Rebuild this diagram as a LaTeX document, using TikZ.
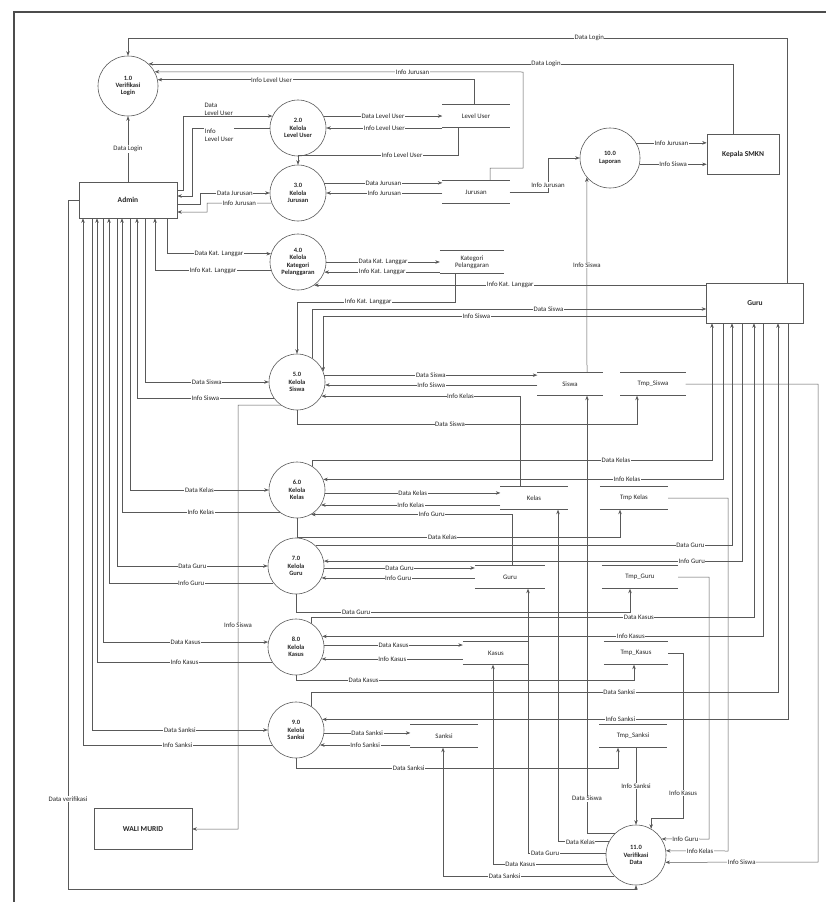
\documentclass[tikz,border=0pt]{standalone}
\usepackage{fontspec}
\setmainfont{Carlito}
\usetikzlibrary{arrows.meta}

\begin{document}
\begin{tikzpicture}[x=1pt, y=-1pt, >={Stealth[length=4.5pt,width=3.5pt]},
	every node/.style={font=\fontsize{6.8}{7.5}\selectfont, text=black!85},
	line/.style={draw=black!65, line width=0.5pt},
	flow/.style={line, ->},
	proc/.style={circle, draw=black!65, line width=0.6pt, minimum size=56pt, inner sep=0pt, align=center, font=\bfseries\fontsize{6.5}{7.3}\selectfont},
	big/.style={minimum size=60pt},
	ent/.style={draw=black!65, line width=0.6pt, align=center, font=\bfseries\fontsize{7.5}{8.5}\selectfont},
	store/.style={minimum height=23pt, inner sep=1pt, align=center},
	lbl/.style={fill=white, inner sep=0.6pt}]
	\useasboundingbox (0,0) rectangle (826,902);
	\draw[black!70, line width=2pt] (826,12) -- (14,12) -- (14,902);
	
	% proses
	\node[proc, big] (p1) at (128,86) {1.0\\Verifikasi\\Login};
	\node[proc] (p2) at (298,128) {2.0\\Kelola\\Level User};
	\node[proc] (p3) at (298,193) {3.0\\Kelola\\Jurusan};
	\node[proc] (p4) at (298,262) {4.0\\Kelola\\Kategori\\Pelanggaran};
	\node[proc] (p5) at (297,382) {5.0\\Kelola\\Siswa};
	\node[proc] (p6) at (297,490) {6.0\\Kelola\\Kelas};
	\node[proc] (p7) at (296,566) {7.0\\Kelola\\Guru};
	\node[proc] (p8) at (296,647) {8.0\\Kelola\\Kasus};
	\node[proc] (p9) at (296,730) {9.0\\Kelola\\Sanksi};
	\node[proc, big] (p10) at (610,158) {10.0\\Laporan};
	\node[proc, big] (p11) at (636,855) {11.0\\Verifikasi\\Data};
	
	% entitas
	\node[ent, minimum width=98pt, minimum height=36pt] (admin) at (128,200) {Admin};
	\node[ent, minimum width=72pt, minimum height=40pt] (kepala) at (743,154) {Kepala SMKN};
	\node[ent, minimum width=97pt, minimum height=40pt] (guru) at (755,303) {Guru};
	\node[ent, minimum width=98pt, minimum height=41pt] (wali) at (143,829) {WALI MURID};
	
	% data store
	\node[store, minimum width=67pt] (sUser) at (476,116) {Level User};
	\node[store, minimum width=67pt] (sJur) at (476,192) {Jurusan};
	\node[store, minimum width=64pt] (sKat) at (472,262) {Kategori\\Pelanggaran};
	\node[store, minimum width=65pt] (sSiswa) at (570,384) {Siswa};
	\node[store, minimum width=65pt] (sTSiswa) at (653,384) {Tmp\_Siswa};
	\node[store, minimum width=67pt] (sKelas) at (534,498) {Kelas};
	\node[store, minimum width=68pt] (sTKelas) at (634,498) {Tmp Kelas};
	\node[store, minimum width=70pt] (sGuru) at (510,577) {Guru};
	\node[store, minimum width=76pt] (sTGuru) at (640,577) {Tmp\_Guru};
	\node[store, minimum width=66pt] (sKasus) at (496,653) {Kasus};
	\node[store, minimum width=64pt] (sTKasus) at (636,653) {Tmp\_Kasus};
	\node[store, minimum width=67pt] (sSanksi) at (444,736) {Sanksi};
	\node[store, minimum width=67pt] (sTSanksi) at (633,736) {Tmp\_Sanksi};
	\foreach \s in {sUser,sJur,sKat,sSiswa,sTSiswa,sKelas,sTKelas,sGuru,sTGuru,sKasus,sTKasus,sSanksi,sTSanksi}
		\draw[line] (\s.north west) -- (\s.north east) (\s.south west) -- (\s.south east);
	
	% 1.0 Verifikasi Login
	\draw[flow] (guru.north -| 787,0) -- (787,38) -- node[lbl,pos=0.3]{Data Login} (128,38) -- (p1.north);
	\draw[flow] (kepala.north -| 733,0) |- node[lbl,pos=0.66]{Data Login} (p1.47);
	\draw[flow] (sJur.north -| 490,0) -- (490,168) -- (523,168) -- (523,72) -- node[lbl,pos=0.3]{Info Jurusan} (p1.28);
	\draw[flow] (sUser.north -| 474,0) |- node[lbl,pos=0.82]{Info Level User} (p1.12);
	\draw[flow] (admin) -- node[lbl]{Data Login} (p1);
	
	% 2.0 Kelola Level User
	\draw[flow] (admin.east |- 0,190) -- (183,190) |- node[lbl,pos=0.7,above,align=left]{Data\\Level User} (p2.155);
	\draw[flow] (p2.west) -- node[lbl,pos=0.65,below,align=left]{Info\\Level User} (192,128) -- (192,196) -- (admin.east |- 0,196);
	\draw[flow] (p2.25) -- node[lbl]{Data Level User} (p2.25 -| sUser.west);
	\draw[flow] (sUser.west |- p2.east) -- node[lbl]{Info Level User} (p2.east);
	\draw[flow] (sUser.south -| 458,0) -- (458,155) -- node[lbl,pos=0.35]{Info Level User} (298,155) -- (p3.north);
	
	% 3.0 Kelola Jurusan
	\draw[flow] (admin.east |- 0,204) -- (200,204) |- node[lbl,pos=0.75]{Data Jurusan} (p3.west);
	\draw[flow] (p3.201) -- node[lbl]{Info Jurusan} (207,203) |- (admin.east |- 0,212);
	\draw[flow] (p3.21) -- node[lbl]{Data Jurusan} (p3.21 -| sJur.west);
	\draw[flow] (sJur.west |- p3.east) -- node[lbl]{Info Jurusan} (p3.east);
	\draw[flow] (sJur.east) -- (548,192) |- node[lbl,pos=0.1]{Info Jurusan} (p10.west);
	
	% 10.0 Laporan
	\draw[flow] (sSiswa.north -| 587,0) -- node[lbl,pos=0.55]{Info Siswa} (p10.220);
	\draw[flow] (p10.30) -- node[lbl]{Info Jurusan} (p10.30 -| kepala.west);
	\draw[flow] (p10.348) -- node[lbl]{Info Siswa} (p10.348 -| kepala.west);
	
	% 4.0 Kelola Kategori Pelanggaran
	\draw[flow] (admin.south -| 167,0) |- node[lbl,pos=0.75]{Data Kat. Langgar} (p4.163);
	\draw[flow] (p4.197) -| node[lbl,pos=0.25]{Info Kat. Langgar} (admin.south -| 155,0);
	\draw[flow] (p4.east) -- node[lbl]{Data Kat. Langgar} (p4.east -| sKat.west);
	\draw[flow] (p4.339 -| sKat.west) -- node[lbl]{Info Kat. Langgar} (p4.339);
	\draw[flow] (p4.305 -| guru.west) -- node[lbl]{Info Kat. Langgar} (p4.305);
	\draw[flow] (sKat.south -| 455,0) -- (455,302) -- node[lbl,pos=0.55]{Info Kat. Langgar} (297,302) -- (p5.north);
	
	% 5.0 Kelola Siswa
	\draw[flow] (p5.58) |- node[lbl,pos=0.8]{Data Siswa} (guru.west |- 0,309);
	\draw[flow] (guru.west |- 0,316) -| node[lbl,pos=0.3]{Info Siswa} (p5.22);
	\draw[flow] (admin.south -| 145,0) |- node[lbl,pos=0.75]{Data Siswa} (p5.west);
	\draw[flow] (p5.215) -| node[lbl,pos=0.25]{Info Siswa} (admin.south -| 137,0);
	\draw[flow] (p5.14) -- node[lbl]{Data Siswa} (p5.14 -| sSiswa.west);
	\draw[flow] (p5.354 -| sSiswa.west) -- node[lbl]{Info Siswa} (p5.354);
	\draw[flow] (sKelas.north -| 520,0) |- node[lbl,pos=0.65]{Info Kelas} (p5.330);
	\draw[flow] (p5.south) -- (p5.south |- 0,424) -- node[lbl,pos=0.45]{Data Siswa} (637,424) -- (sTSiswa.south -| 637,0);
	\draw[flow] (sTSiswa.east) -- (818,384) -- (818,862) -- node[lbl]{Info Siswa} (p11.346);
	\draw[flow] (p5.235) -- (238,405) -- node[lbl,pos=0.52]{Info Siswa} (238,829) -- (wali.east);
	
	% 6.0 Kelola Kelas
	\draw[flow] (p6.58) |- node[lbl,pos=0.88]{Data Kelas} (712,460) -- (guru.south -| 712,0);
	\draw[flow] (guru.south -| 723,0) |- node[lbl,pos=0.62]{Info Kelas} (p6.22);
	\draw[flow] (admin.south -| 130,0) |- node[lbl,pos=0.75]{Data Kelas} (p6.west);
	\draw[flow] (p6.232) -| node[lbl,pos=0.25]{Info Kelas} (admin.south -| 122,0);
	\draw[flow] (p6.354) -- node[lbl]{Data Kelas} (p6.354 -| sKelas.west);
	\draw[flow] (p6.328 -| sKelas.west) -- node[lbl]{Info Kelas} (p6.328);
	\draw[flow] (sGuru.north -| 512,0) |- node[lbl,pos=0.7]{Info Guru} (p6.300);
	\draw[flow] (p6.south) -- (p6.south |- 0,537) -- node[lbl,pos=0.45]{Data Kelas} (620,537) -- (sTKelas.south -| 620,0);
	\draw[flow] (sTKelas.east) -- (728,498) -- (728,851) -- node[lbl,pos=0.45]{Info Kelas} (p11.8);
	
	% 7.0 Kelola Guru
	\draw[flow] (p7.46) -| node[lbl,pos=0.45]{Data Guru} (guru.south -| 732,0);
	\draw[flow] (guru.south -| 742,0) |- node[lbl,pos=0.56]{Info Guru} (p7.10);
	\draw[flow] (admin.south -| 117,0) |- node[lbl,pos=0.75]{Data Guru} (p7.west);
	\draw[flow] (p7.217) -| node[lbl,pos=0.25]{Info Guru} (admin.south -| 109,0);
	\draw[flow] (p7.356) -- node[lbl]{Data Guru} (p7.356 -| sGuru.west);
	\draw[flow] (p7.335 -| sGuru.west) -- node[lbl]{Info Guru} (p7.335);
	\draw[flow] (p7.south) -- (p7.south |- 0,612) -- node[lbl,pos=0.18]{Data Guru} (630,612) -- (sTGuru.south -| 630,0);
	\draw[flow] (sTGuru.east) -- (709,577) -- (709,839) -- node[lbl]{Info Guru} (p11.32);
	
	% 8.0 Kelola Kasus
	\draw[flow] (p8.58) |- node[lbl,pos=0.87]{Data Kasus} (754,617) -- (guru.south -| 754,0);
	\draw[flow] (guru.south -| 763,0) |- node[lbl,pos=0.65]{Info Kasus} (p8.22);
	\draw[flow] (admin.south -| 103,0) |- node[lbl,pos=0.75]{Data Kasus} (p8.170);
	\draw[flow] (p8.212) -| node[lbl,pos=0.25]{Info Kasus} (admin.south -| 97,0);
	\draw[flow] (p8.4) -- node[lbl]{Data Kasus} (p8.4 -| sKasus.west);
	\draw[flow] (p8.335 -| sKasus.west) -- node[lbl]{Info Kasus} (p8.335);
	\draw[flow] (p8.south) -- (p8.south |- 0,680) -- node[lbl,pos=0.2]{Data Kasus} (634,680) -- (sTKasus.south -| 634,0);
	\draw[flow] (sTKasus.east) -- (683,653) -- node[lbl,pos=0.85]{Info Kasus} (683,818) -| (p11.60);
	
	% 9.0 Kelola Sanksi
	\draw[flow] (p9.58) |- node[lbl,pos=0.83]{Data Sanksi} (778,692) -- (guru.south -| 778,0);
	\draw[flow] (guru.south -| 788,0) |- node[lbl,pos=0.68]{Info Sanksi} (p9.22);
	\draw[flow] (admin.south -| 92,0) |- node[lbl,pos=0.75]{Data Sanksi} (p9.west);
	\draw[flow] (p9.212) -| node[lbl,pos=0.25]{Info Sanksi} (admin.south -| 83,0);
	\draw[flow] (p9.354) -- node[lbl]{Data Sanksi} (p9.354 -| sSanksi.west);
	\draw[flow] (p9.328 -| sSanksi.west) -- node[lbl]{Info Sanksi} (p9.328);
	\draw[flow] (p9.south) -- (p9.south |- 0,768) -- node[lbl,pos=0.35]{Data Sanksi} (618,768) -- (sTSanksi.south -| 618,0);
	\draw[flow] (sTSanksi.south -| p11.north) -- node[lbl]{Info Sanksi} (p11.north);
	
	% 11.0 Verifikasi Data
	\draw[flow] (p11.135) -| node[lbl,pos=0.54]{Data Siswa} (sSiswa.south -| 587,0);
	\draw[flow] (p11.154) -| node[lbl,pos=0.28]{Data Kelas} (sKelas.south -| 558,0);
	\draw[flow] (p11.176) -| node[lbl,pos=0.39]{Data Guru} (sGuru.south -| 528,0);
	\draw[flow] (p11.197) -| node[lbl,pos=0.38]{Data Kasus} (sKasus.south -| 493,0);
	\draw[flow] (p11.224) -| node[lbl,pos=0.32]{Data Sanksi} (sSanksi.south -| 443,0);
	\draw[flow] (admin.west) -- (68,200) -- node[lbl,pos=0.87]{Data verifikasi} (68,889) -| (p11.south);
\end{tikzpicture}
\end{document}
